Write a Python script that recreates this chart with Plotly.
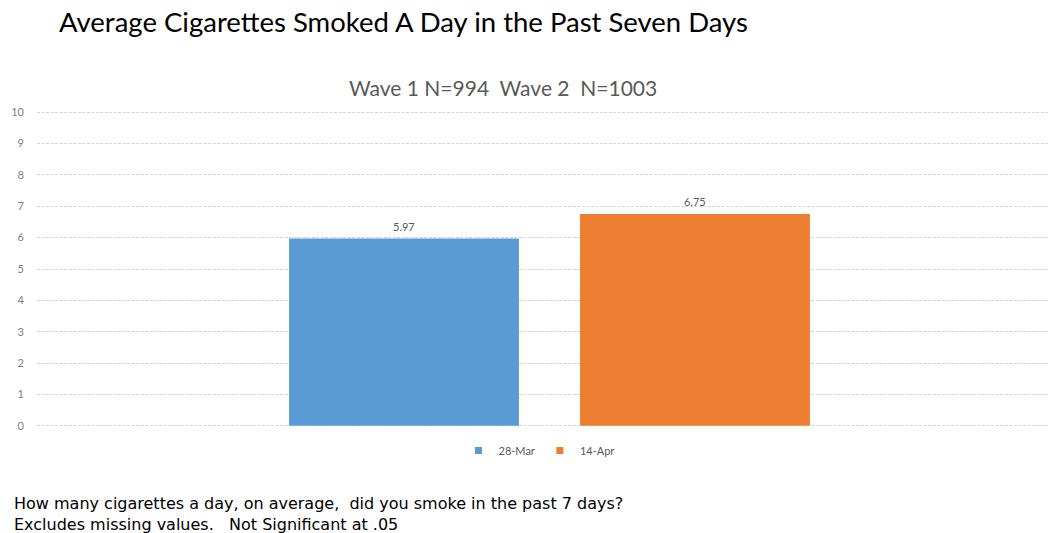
import plotly.graph_objects as go

# Survey waves and their average cigarettes smoked per day
waves = ["28-Mar", "14-Apr"]
averages = [5.97, 6.75]
colors = ["#5B9BD5", "#ED7D31"]
category = [""]
y_ticks = list(range(0, 11))
footer_lines = [
    "How many cigarettes a day, on average,  did you smoke in the past 7 days?",
    "Excludes missing values.   Not Significant at .05",
]

fig = go.Figure()
for name, val, col in zip(waves, averages, colors):
    fig.add_trace(go.Bar(
        name=name,
        x=category,
        y=[val],
        marker=dict(color=col, line=dict(width=0)),
        showlegend=False,
        hoverinfo="y",
    ))
    # legend entry with a small square swatch
    fig.add_trace(go.Scatter(
        name=name,
        x=[None], y=[None],
        mode="markers",
        marker=dict(symbol="square", size=7, color=col),
    ))

fig.update_layout(
    width=1050,
    height=533,
    margin=dict(l=37, r=0, t=109, b=104),
    paper_bgcolor="white",
    plot_bgcolor="white",
    barmode="group",
    bargap=0.0,
    bargroupgap=0.21,
    font=dict(family="Lato", color="#595959"),
    showlegend=True,
    legend=dict(
        orientation="h",
        x=(539 - 37) / 1013, xanchor="center",
        y=-0.022, yanchor="top",
        font=dict(size=11, color="#595959"),
        itemwidth=30,
        tracegroupgap=0,
    ),
    xaxis=dict(
        range=[-0.8806, 0.86],
        showticklabels=False,
        showgrid=False,
        zeroline=False,
        showline=False,
    ),
    yaxis=dict(
        range=[-0.1, 10.1],
        tickvals=y_ticks,
        tickfont=dict(size=11, color="#7f7f7f"),
        showgrid=True,
        gridcolor="#d4d4d4",
        griddash="3px,1.5px",
        gridwidth=1,
        zeroline=False,
        showline=False,
        ticks="",
        ticklabelstandoff=12,
    ),
)

# value labels above each bar
for i, val in enumerate(averages):
    fig.add_annotation(
        x=-0.25 if i == 0 else 0.25, y=val,
        xref="x", yref="y",
        text=f"{val:.2f}",
        showarrow=False,
        yanchor="bottom", yshift=4,
        font=dict(size=11, color="#595959", family="Lato"),
    )

px_w, px_h = 1013, 320
top_px = 109

def px(x, y):
    return (x - 37) / px_w, (top_px + px_h - y) / px_h

tx, ty = px(57, 22)
fig.add_annotation(
    text="Average Cigarettes Smoked A Day in the Past Seven Days",
    xref="paper", yref="paper", x=tx, y=ty,
    xanchor="left", yanchor="middle",
    showarrow=False,
    font=dict(size=27.5, color="#000000", family="Lato"),
)

sx, sy = px(503, 88)
fig.add_annotation(
    text="Wave 1 N=994  Wave 2  N=1003",
    xref="paper", yref="paper", x=sx, y=sy,
    xanchor="center", yanchor="middle",
    showarrow=False,
    font=dict(size=21, color="#595959", family="Lato"),
)

fx, fy = px(12, 513.5)
fig.add_annotation(
    text="<br>".join(footer_lines),
    xref="paper", yref="paper", x=fx, y=fy,
    xanchor="left", yanchor="middle", align="left",
    showarrow=False,
    font=dict(size=16, color="#000000", family="DejaVu Sans"),
)

fig.write_html("out.html")
